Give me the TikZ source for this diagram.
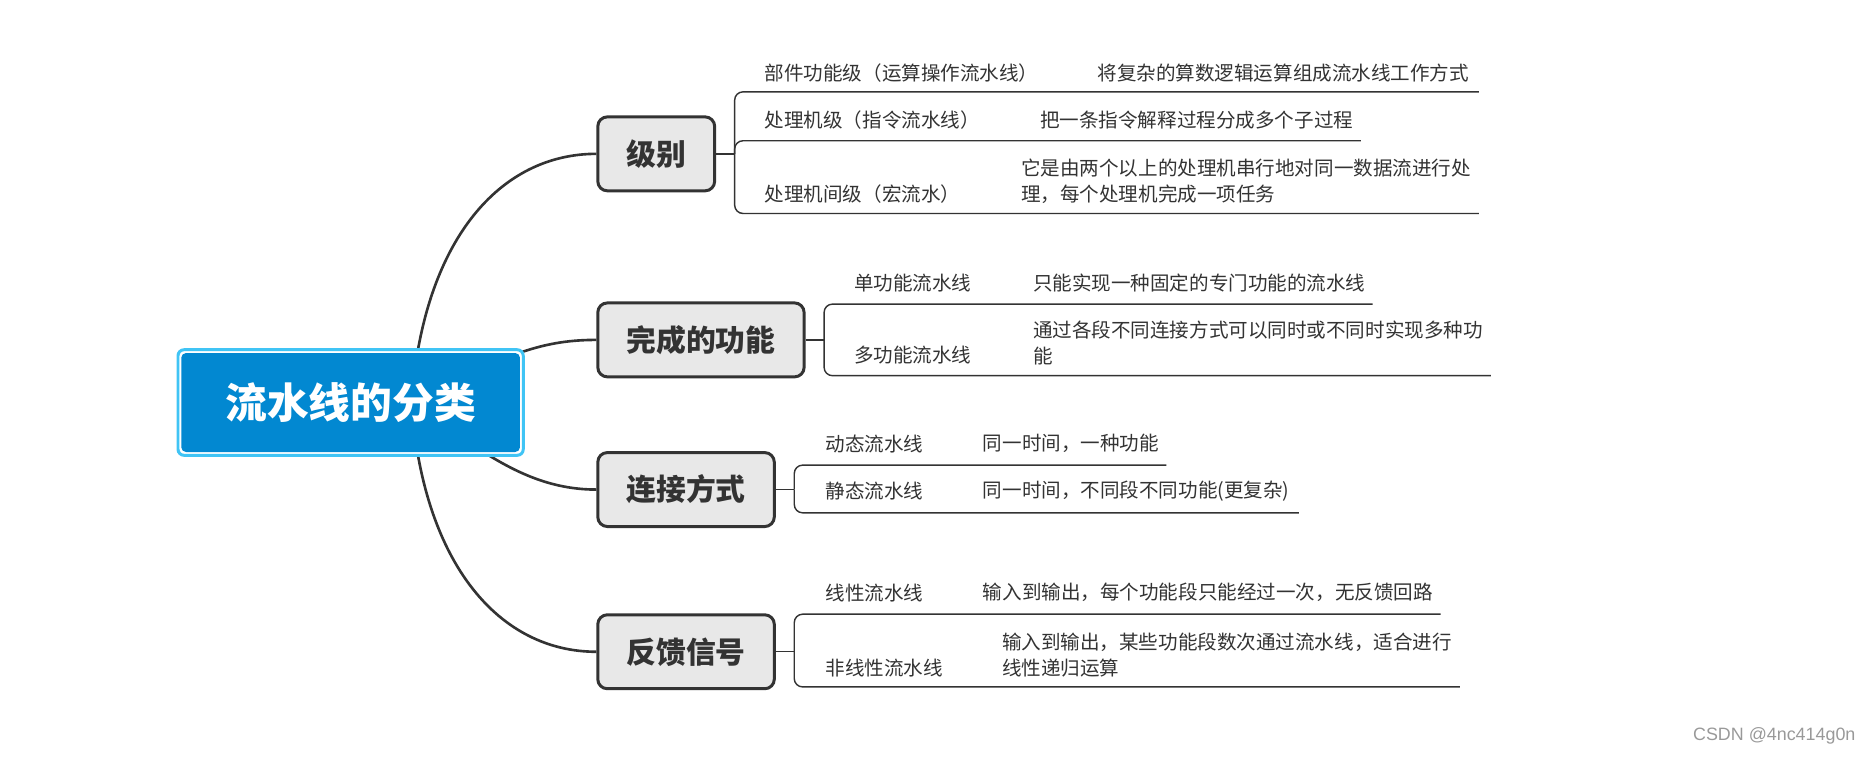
\documentclass[tikz,border=0pt]{standalone}
\usepackage{fontspec}
\setmainfont{Noto Sans CJK SC}
\newfontfamily\markfont{Liberation Sans}
\usetikzlibrary{backgrounds}
\definecolor{rootblue}{RGB}{2,136,209}
\definecolor{ringblue}{RGB}{64,196,245}
\definecolor{topicgray}{RGB}{232,232,232}
\definecolor{inkgray}{RGB}{51,51,51}
\begin{document}
\begin{tikzpicture}[x=1pt,y=-1pt,
	rootframe/.style={draw=ringblue, fill=white, line width=2.5pt, rounded corners=5pt, minimum width=289.5pt, minimum height=88.5pt},
	roottopic/.style={fill=rootblue, rounded corners=4pt, minimum width=284pt, minimum height=83pt, text=white, font=\fontsize{35pt}{40pt}\selectfont\bfseries},
	maintopic/.style={draw=inkgray, fill=topicgray, line width=2.5pt, rounded corners=8pt, minimum height=62pt, inner xsep=24pt, anchor=west, text=inkgray, font=\fontsize{25pt}{30pt}\selectfont\bfseries},
	subtopic/.style={anchor=west, inner sep=0pt, align=left, text=inkgray, font=\fontsize{16.4pt}{22pt}\selectfont},
	mainline/.style={draw=inkgray, line width=2.2pt},
	branchline/.style={draw=inkgray, line width=1.2pt, rounded corners=7pt}]
	\useasboundingbox (0,0) rectangle (1568,634);
	
	% root
	\node[rootframe] (frame) at (294,337.5) {};
	\node[roottopic] (root) at (frame.center) {流水线的分类};
	\coordinate (hub) at ([xshift=51pt]root.center);
	
	% main topics
	\node[maintopic] (jibie) at (500,129) {级别};
	\node[maintopic] (gongneng) at (500,285) {完成的功能};
	\node[maintopic] (lianjie) at (500,410.5) {连接方式};
	\node[maintopic] (fankui) at (500,546.5) {反馈信号};
	
	\begin{scope}[on background layer]
	\draw[mainline] (hub) .. controls (355,200) and (420,129) .. (jibie.west);
	\draw[mainline] (hub) .. controls (420,300) and (450,285) .. (gongneng.west);
	\draw[mainline] (hub) .. controls (400,375) and (440,410.5) .. (lianjie.west);
	\draw[mainline] (hub) .. controls (355,475) and (420,546.5) .. (fankui.west);
	\end{scope}
	
	% 级别
	\coordinate (jJ) at (616,129);
	\coordinate (j1) at (1240,77);
	\coordinate (j2) at (1141,118);
	\coordinate (j3) at (1240,179);
	\draw[branchline] (jibie.east) -- (jJ);
	\draw[branchline] (jJ) |- (j1);
	\draw[branchline] (jJ) |- (j2);
	\draw[branchline] (jJ) |- (j3);
	\node[subtopic] (bujian) at (641,61) {部件功能级（运算操作流水线）};
	\node[subtopic] (bujianD) at (920,61) {将复杂的算数逻辑运算组成流水线工作方式};
	\node[subtopic] (chuliji) at (641,101) {处理机级（指令流水线）};
	\node[subtopic] (chulijiD) at (872,101) {把一条指令解释过程分成多个子过程};
	\node[subtopic] (jianji) at (641,163) {处理机间级（宏流水）};
	\node[subtopic] (jianjiD) at (856,152) {它是由两个以上的处理机串行地对同一数据流进行处\\理，每个处理机完成一项任务};
	
	% 完成的功能
	\coordinate (gJ) at (691,285);
	\coordinate (g1) at (1151,255);
	\coordinate (g2) at (1250,315);
	\draw[branchline] (gongneng.east) -- (gJ);
	\draw[branchline] (gJ) |- (g1);
	\draw[branchline] (gJ) |- (g2);
	\node[subtopic] (dan) at (716,237) {单功能流水线};
	\node[subtopic] (danD) at (866,237) {只能实现一种固定的专门功能的流水线};
	\node[subtopic] (duo) at (716,298) {多功能流水线};
	\node[subtopic] (duoD) at (866,287.5) {通过各段不同连接方式可以同时或不同时实现多种功\\能};
	
	% 连接方式
	\coordinate (lJ) at (666,410.5);
	\coordinate (l1) at (978,390);
	\coordinate (l2) at (1089,430);
	\draw[branchline] (lianjie.east) -- (lJ);
	\draw[branchline] (lJ) |- (l1);
	\draw[branchline] (lJ) |- (l2);
	\node[subtopic] (dongtai) at (692,372) {动态流水线};
	\node[subtopic] (dongtaiD) at (824,372) {同一时间，一种功能};
	\node[subtopic] (jingtai) at (692,412) {静态流水线};
	\node[subtopic] (jingtaiD) at (824,412) {同一时间，不同段不同功能(更复杂)};
	
	% 反馈信号
	\coordinate (fJ) at (666,546.5);
	\coordinate (f1) at (1208,515);
	\coordinate (f2) at (1224,576);
	\draw[branchline] (fankui.east) -- (fJ);
	\draw[branchline] (fJ) |- (f1);
	\draw[branchline] (fJ) |- (f2);
	\node[subtopic] (xianxing) at (692,497) {线性流水线};
	\node[subtopic] (xianxingD) at (824,497) {输入到输出，每个功能段只能经过一次，无反馈回路};
	\node[subtopic] (feixian) at (692,560) {非线性流水线};
	\node[subtopic] (feixianD) at (840,549.5) {输入到输出，某些功能段数次通过流水线，适合进行\\线性递归运算};
	
	\node[anchor=east, inner sep=0pt, text=black!40, font=\markfont\fontsize{15pt}{18pt}\selectfont] (mark) at (1556,617) {CSDN @4nc414g0n};
\end{tikzpicture}
\end{document}
